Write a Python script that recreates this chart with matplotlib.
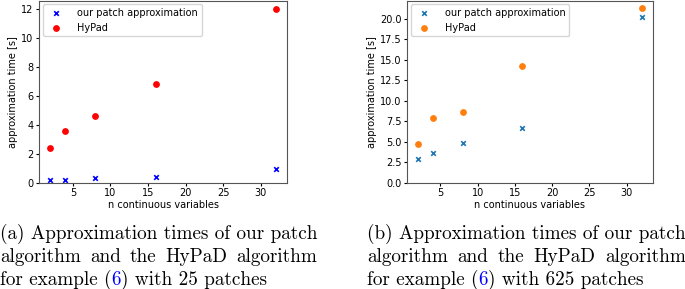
import matplotlib
matplotlib.use("Agg")
import matplotlib.pyplot as plt
from matplotlib import transforms

n_vars = [2, 4, 8, 16, 32]
patch_a = [0.17, 0.20, 0.32, 0.42, 0.93]
hypad_a = [2.42, 3.62, 4.65, 6.85, 12.02]
patch_b = [2.95, 3.60, 4.90, 6.75, 20.25]
hypad_b = [4.70, 7.90, 8.60, 14.30, 21.30]

xlabel = "n continuous variables"
ylabel = "approximation time [s]"
lbl_patch = "our patch approximation"
lbl_hypad = "HyPad"

fig = plt.figure(figsize=(6.85, 2.89), dpi=100)
ax1 = fig.add_axes([0.057, 0.367, 0.362, 0.631])
ax2 = fig.add_axes([0.594, 0.367, 0.359, 0.631])

def draw(ax, p, h, cp, ch):
    ax.scatter(n_vars, p, marker="x", s=11, color=cp, linewidths=1.2, label=lbl_patch)
    ax.scatter(n_vars, h, marker="o", s=15, color=ch, label=lbl_hypad)
    ax.set_ylim(bottom=0)
    ax.set_xlabel(xlabel, fontsize=7, labelpad=1)
    ax.set_ylabel(ylabel, fontsize=7, labelpad=2)
    ax.tick_params(labelsize=7, length=2.5, pad=1.5)
    ax.legend(loc="upper left", fontsize=7, borderpad=0.35, handletextpad=1.2,
              labelspacing=0.5, borderaxespad=0.4)
    for s in ax.spines.values():
        s.set_color("#555555")

draw(ax1, patch_a, hypad_a, "blue", "red")
draw(ax2, patch_b, hypad_b, "tab:blue", "tab:orange")
ax1.set_xticks([5, 10, 15, 20, 25, 30])
ax2.set_xticks([5, 10, 15, 20, 25, 30])

cap_font = dict(family="cmr10", fontsize=13.8)
captions = [
    (0.0, ["(a) Approximation times of our patch",
           "algorithm and the HyPaD algorithm",
           ("for example (", "6", ") with 25 patches")]),
    (0.536, ["(b) Approximation times of our patch",
             "algorithm and the HyPaD algorithm",
             ("for example (", "6", ") with 625 patches")]),
]
line_y = [1 - 239 / 289, 1 - 262 / 289, 1 - 285 / 289]

fig.canvas.draw()
renderer = fig.canvas.get_renderer()

def place(x0, ly, s, xo, col="black"):
    txt = fig.text(x0, ly, s, va="baseline", ha="left", color=col,
                   transform=transforms.offset_copy(fig.transFigure, fig=fig, x=xo, y=0, units="dots"),
                   **cap_font)
    return txt.get_window_extent(renderer=renderer).width

for x0, lines in captions:
    target = place(x0, line_y[0], lines[0], 0)
    # justified second line
    words = lines[1].split(" ")
    tmp = [fig.text(0, 0, w, **cap_font) for w in words]
    widths = [t.get_window_extent(renderer=renderer).width for t in tmp]
    for t in tmp:
        t.remove()
    gap = (target - sum(widths)) / (len(words) - 1)
    xo = 0
    for w, wd in zip(words, widths):
        place(x0, line_y[1], w, xo)
        xo += wd + gap
    # third line with blue reference
    xo = 0
    for part, col in zip(lines[2], ["black", "blue", "black"]):
        xo += place(x0, line_y[2], part, xo, col)

fig.savefig("out.png", dpi=100)
